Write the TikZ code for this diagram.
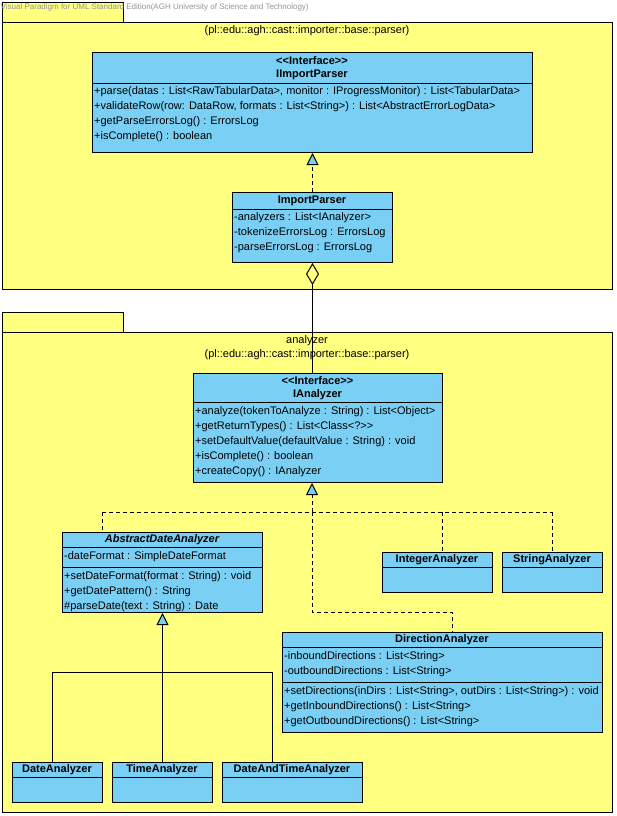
\documentclass[tikz,border=0pt]{standalone}
\usepackage{fontspec}
\setmainfont{Liberation Sans}[Ligatures=TeXOff]
\usetikzlibrary{arrows.meta,calc}
\definecolor{pkgfill}{RGB}{255,255,128}
\definecolor{clsfill}{RGB}{122,207,245}
\definecolor{wmgray}{RGB}{150,150,150}
\newcommand\umlf{\fontsize{11}{13}\selectfont}
\tikzset{
  pkgbox/.style={draw=black, fill=pkgfill, line width=1pt, inner sep=0pt, anchor=north west},
  clsbox/.style={draw=black, fill=clsfill, line width=1pt, inner sep=0pt, anchor=north west},
  sepline/.style={draw=black, line width=1pt},
  mem/.style={anchor=west, inner sep=0pt, font=\umlf},
  ttl/.style={anchor=center, inner sep=0pt, font=\umlf\bfseries},
  lbl/.style={anchor=center, inner sep=0pt, font=\umlf},
  conn/.style={draw=black, line width=1pt},
  dsh/.style={conn, dash pattern=on 4pt off 3pt},
  realtip/.style={-{Triangle[width=12pt,length=12pt,fill=clsfill,line width=1pt]}},
}
\begin{document}
\begin{tikzpicture}[x=1pt,y=-1pt]
\useasboundingbox[fill=white] (0,0) rectangle (616,816);

% ---------- package 1 ----------
\node[pkgbox, minimum width=121pt, minimum height=20pt] (p1tab) at (2,2) {};
\node[pkgbox, minimum width=610pt, minimum height=267pt] (p1) at (2,22) {};
\node[lbl] (p1name) at (307,31) {(pl::edu::agh::cast::importer::base::parser)};

% watermark
\node[anchor=west, inner sep=0pt, text=wmgray, font=\fontsize{8}{9}\selectfont] (wm) at (0.5,7)
  {Visual Paradigm for UML Standard Edition(AGH University of Science and Technology)};

% IImportParser
\node[clsbox, minimum width=440pt, minimum height=100pt] (iip) at (92,52) {};
\draw[sepline] (92,83) -- (532,83);
\node[ttl] (iipst) at (312,61) {<<Interface>>};
\node[ttl] (iipn) at (312,75) {IImportParser};
\node[mem] (iip1) at (94,92) {+parse(datas : List<RawTabularData>, monitor : IProgressMonitor) : List<TabularData>};
\node[mem] (iip2) at (94,107) {+validateRow(row: DataRow, formats : List<String>) : List<AbstractErrorLogData>};
\node[mem] (iip3) at (94,122) {+getParseErrorsLog() : ErrorsLog};
\node[mem] (iip4) at (94,137) {+isComplete() : boolean};

% ImportParser
\node[clsbox, minimum width=160pt, minimum height=70pt] (ip) at (232,192) {};
\draw[sepline] (232,209) -- (392,209);
\node[ttl] (ipn) at (312,201) {ImportParser};
\node[mem] (ip1) at (234,218) {-analyzers : List<IAnalyzer>};
\node[mem] (ip2) at (234,233) {-tokenizeErrorsLog : ErrorsLog};
\node[mem] (ip3) at (234,248) {-parseErrorsLog : ErrorsLog};

% ---------- package 2 ----------
\node[pkgbox, minimum width=121pt, minimum height=20pt] (p2tab) at (2,312) {};
\node[pkgbox, minimum width=610pt, minimum height=480pt] (p2) at (2,332) {};
\node[lbl] (p2name) at (307,341) {analyzer};
\node[lbl] (p2path) at (307,355) {(pl::edu::agh::cast::importer::base::parser)};

% IAnalyzer
\node[clsbox, minimum width=249pt, minimum height=109pt] (ia) at (193,373) {};
\draw[sepline] (193,402) -- (442,402);
\node[ttl] (iast) at (317.5,381) {<<Interface>>};
\node[ttl] (ian) at (317.5,395) {IAnalyzer};
\node[mem] (ia1) at (195,412) {+analyze(tokenToAnalyze : String) : List<Object>};
\node[mem] (ia2) at (195,427) {+getReturnTypes() : List<Class<?>>};
\node[mem] (ia3) at (195,442) {+setDefaultValue(defaultValue : String) : void};
\node[mem] (ia4) at (195,457) {+isComplete() : boolean};
\node[mem] (ia5) at (195,472) {+createCopy() : IAnalyzer};

% AbstractDateAnalyzer
\node[clsbox, minimum width=200pt, minimum height=80pt] (ada) at (62,532) {};
\draw[sepline] (62,547) -- (262,547);
\draw[sepline] (62,567) -- (262,567);
\node[ttl, font=\umlf\bfseries\itshape] (adan) at (162,540) {AbstractDateAnalyzer};
\node[mem] (ada1) at (64,557) {-dateFormat : SimpleDateFormat};
\node[mem] (ada2) at (64,577) {+setDateFormat(format : String) : void};
\node[mem] (ada3) at (64,592) {+getDatePattern() : String};
\node[mem] (ada4) at (64,607) {\#parseDate(text : String) : Date};

% IntegerAnalyzer
\node[clsbox, minimum width=110pt, minimum height=40pt] (int) at (382,552) {};
\draw[sepline] (382,567) -- (492,567);
\node[ttl] (intn) at (437,560) {IntegerAnalyzer};

% StringAnalyzer
\node[clsbox, minimum width=100pt, minimum height=40pt] (str) at (502,552) {};
\draw[sepline] (502,567) -- (602,567);
\node[ttl] (strn) at (552,560) {StringAnalyzer};

% DirectionAnalyzer
\node[clsbox, minimum width=320pt, minimum height=100pt] (dir) at (282,632) {};
\draw[sepline] (282,647) -- (602,647);
\draw[sepline] (282,682) -- (602,682);
\node[ttl] (dirn) at (442,640) {DirectionAnalyzer};
\node[mem] (dir1) at (284,657) {-inboundDirections : List<String>};
\node[mem] (dir2) at (284,672) {-outboundDirections : List<String>};
\node[mem] (dir3) at (284,692) {+setDirections(inDirs : List<String>, outDirs : List<String>) : void};
\node[mem] (dir4) at (284,707) {+getInboundDirections() : List<String>};
\node[mem] (dir5) at (284,722) {+getOutboundDirections() : List<String>};

% Date / Time subclasses
\node[clsbox, minimum width=90pt, minimum height=40pt] (da) at (12,762) {};
\draw[sepline] (12,777) -- (102,777);
\node[ttl] (dan) at (57,770) {DateAnalyzer};
\node[clsbox, minimum width=100pt, minimum height=40pt] (ta) at (112,762) {};
\draw[sepline] (112,777) -- (212,777);
\node[ttl] (tan) at (162,770) {TimeAnalyzer};
\node[clsbox, minimum width=140pt, minimum height=40pt] (dat) at (222,762) {};
\draw[sepline] (222,777) -- (362,777);
\node[ttl] (datn) at (292,770) {DateAndTimeAnalyzer};

% ---------- connectors ----------
% realization ImportParser -> IImportParser
\draw[dsh, realtip] (ip.north) -- (ip.north |- iip.south);
% aggregation IAnalyzer -> ImportParser
\draw[conn, {Diamond[width=13pt,length=22pt,fill=pkgfill,line width=1pt]}-] (ip.south) -- (ip.south |- ia.north);

% realizations to IAnalyzer
\coordinate (j0) at (312,512);
\coordinate (jl) at (102,512);
\coordinate (ji) at (442,512);
\coordinate (jr) at (552,512);
\coordinate (jd) at (312,612);
\coordinate (jd2) at (452,612);
\draw[dsh, realtip] (j0) -- (j0 |- ia.south);
\draw[dsh] (jl) -- (jr);
\draw[dsh] (jl) -- (jl |- ada.north);
\draw[dsh] (ji) -- (ji |- int.north);
\draw[dsh] (jr) -- (jr |- str.north);
\draw[dsh] (j0) -- (jd) -- (jd2) -- (jd2 |- dir.north);

% generalizations to AbstractDateAnalyzer
\coordinate (gl) at (52,672);
\coordinate (gr) at (272,672);
\draw[conn, realtip] (ta.north) -- (ada.south);
\draw[conn] (gl) -- (gr);
\draw[conn] (gl) -- (gl |- da.north);
\draw[conn] (gr) -- (gr |- dat.north);
\end{tikzpicture}
\end{document}
